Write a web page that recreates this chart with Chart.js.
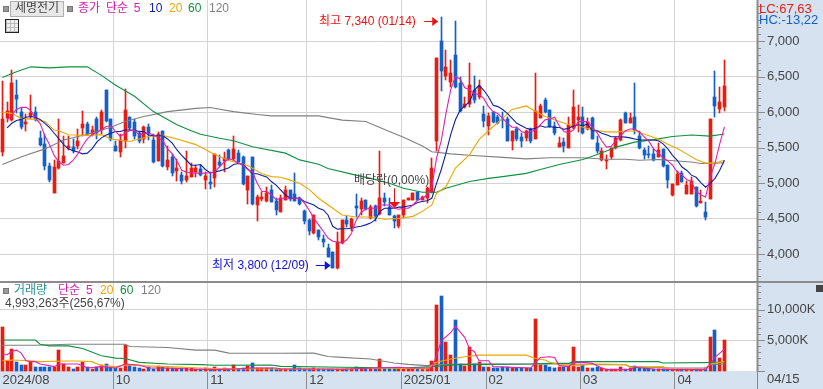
<!DOCTYPE html>
<html><head><meta charset="utf-8">
<style>
html,body{margin:0;padding:0;width:823px;height:389px;overflow:hidden;background:#d6e2f0}
#w1,#w2{position:absolute;left:0;width:757px;background:#fff}
#w1{top:0;height:281px}#w2{top:283px;height:88px}
canvas{position:absolute;left:0}
#c1{top:0}#c2{top:281px}
.t{position:absolute;font:12px "Liberation Sans","Noto Sans CJK KR",sans-serif;line-height:14px;white-space:nowrap;color:#444}
.b{position:absolute}
</style></head><body>
<div id="w1"></div><div id="w2"></div>
<canvas id="c1" width="823" height="281"></canvas>
<canvas id="c2" width="823" height="108"></canvas>
<div class="b" style="left:0;top:281px;width:823px;height:2px;background:#8c8c8c"></div>
<div class="b" style="left:3px;top:6px;width:4px;height:4px;background:#999;border:1px solid #777"></div>
<div class="b" style="left:10px;top:1px;width:52px;height:14px;background:#e8e8e8;border:1px solid #b0b0b0"></div>
<span class="t" style="left:15px;top:1px">세명전기</span>
<div class="b" style="left:67px;top:6px;width:4px;height:4px;background:#999;border:1px solid #777"></div>
<span class="t" style="left:78px;top:1px;color:#d81fb0;word-spacing:2.5px">종가 단순 5</span>
<span class="t" style="left:149px;top:1px;color:#1020a0">10</span>
<span class="t" style="left:169px;top:1px;color:#eda800">20</span>
<span class="t" style="left:188px;top:1px;color:#109040">60</span>
<span class="t" style="left:209px;top:1px;color:#808080">120</span>
<div class="b" style="left:5px;top:19px;width:12px;height:12px;border:1px solid #222;background:repeating-linear-gradient(90deg,#bbb 0 1px,transparent 1px 4px),repeating-linear-gradient(0deg,#bbb 0 1px,#eee 1px 4px)"></div>
<span class="t" style="left:759px;top:2px;color:#e81c10;font-size:13px">LC:67,63</span>
<span class="t" style="left:759px;top:13px;color:#1560c8;font-size:13px">HC:-13,22</span>
<span class="t" style="left:319px;top:14px;color:#f01010">최고 7,340 (01/14)</span>
<span class="t" style="left:212px;top:258px;color:#1010e0">최저 3,800 (12/09)</span>
<span class="t" style="left:354px;top:173px;color:#444">배당락(0,00%)</span>
<div class="b" style="left:3px;top:288px;width:4px;height:4px;background:#999;border:1px solid #777"></div>
<span class="t" style="left:14px;top:283px;color:#2a9090">거래량</span>
<span class="t" style="left:58px;top:283px;color:#d81fb0;word-spacing:2.5px">단순 5</span>
<span class="t" style="left:100px;top:283px;color:#eda800">20</span>
<span class="t" style="left:120px;top:283px;color:#109040">60</span>
<span class="t" style="left:141px;top:283px;color:#808080">120</span>
<span class="t" style="left:5px;top:296px">4,993,263주(256,67%)</span>
<span class="t" style="left:767px;top:372px;font-size:13px">04/15</span>
<div class="b" style="left:757px;top:371px;width:1px;height:18px;background:#888"></div>
<div class="b" style="left:816px;top:285px;width:7px;height:7px;background:#444"></div>
<script src="https://cdn.jsdelivr.net/npm/chart.js@4"></script>
<script>
const opens=[5440,5920,5890,6240,6005,5840,5950,6000,5640,5555,
5250,4860,5210,5290,5500,5510,5525,5780,5836,5690,
5900,5750,6310,5900,5520,5440,5600,5930,5870,5710,
5625,5800,5610,5320,5730,5235,5375,5180,5120,5050,
5090,5160,5200,5045,5025,5080,5295,5320,5465,5340,
5425,5370,4905,5370,4695,4780,4750,4905,4750,4600,
4770,4905,4850,4790,4615,4490,4300,4350,4220,4090,
4040,3810,4160,4480,4390,4680,4640,4760,4515,4680,
4570,4800,4665,4540,4395,4550,4760,4770,4875,4765,
4800,4885,5590,7000,6505,6430,6800,6410,6080,6120,
6310,6220,5970,5810,6010,5940,5900,5900,5590,5760,
5650,5640,5760,5630,5925,6180,6030,5810,5515,5585,
5495,5780,5890,5930,5760,5915,5565,5325,5320,5370,
5495,5610,5995,5855,5930,5670,5465,5415,5415,5370,
5485,5255,4840,4975,5140,4855,4855,4945,4730,4600,
4780,6210,6050,6070];
const highs=[6435,6150,6590,6450,6065,5980,6250,6070,5740,5700,
5290,5330,5900,5670,5660,5620,5760,6020,5870,5810,
5940,6030,6310,5910,5600,5690,6330,5940,5900,5730,
5810,5840,5690,5720,5740,5530,5410,5345,5160,5450,
5290,5255,5265,5160,5160,5415,5400,5440,5485,5660,
5475,5385,5100,5375,4840,4880,4950,4975,4790,4830,
4960,4905,5150,4810,4630,4500,4560,4350,4270,4150,
4040,4315,4480,4535,4515,4845,4800,4770,4690,4690,
5450,4870,4800,4550,4560,4770,4790,4870,4880,4820,
4945,5350,6760,7340,6880,6730,7280,6490,6215,6690,
6505,6450,6090,5995,6010,5960,6010,5940,5730,5800,
5710,5745,5775,6550,6120,6200,6030,5870,5650,5635,
5940,6310,6105,6080,5915,5930,5670,5495,5395,5500,
5650,5910,6005,5995,6410,5740,5495,5520,5480,5565,
5490,5260,4990,5175,5175,5035,5085,4955,4900,4740,
5910,6580,6355,6735];
const lows=[5380,5870,5880,5985,5760,5730,5910,5880,5520,5190,
5020,4860,5200,5280,5465,5420,5490,5660,5680,5660,
5620,5700,5860,5590,5450,5370,5500,5750,5630,5570,
5570,5610,5280,5320,5230,5190,5100,5035,4990,5020,
5085,5085,5105,4920,4915,4945,5230,5160,5325,5325,
5280,4975,4710,4700,4470,4750,4740,4740,4555,4595,
4770,4750,4755,4700,4430,4270,4290,4200,4110,3960,
3810,3800,4140,4380,4335,4530,4560,4620,4500,4470,
4550,4685,4550,4370,4370,4515,4760,4760,4760,4760,
4720,4860,5460,6305,6450,6360,6345,6010,6060,6080,
6130,6190,5800,5680,5850,5840,5785,5600,5470,5590,
5510,5590,5565,5620,5925,5990,5790,5680,5510,5440,
5495,5770,5725,5700,5745,5620,5430,5315,5195,5340,
5490,5600,5850,5850,5690,5480,5345,5360,5315,5370,
5230,4940,4825,4975,5020,4855,4855,4665,4730,4485,
4780,5930,5985,6020];
const closes=[5900,6020,6410,6190,5800,5870,5990,5900,5545,5250,
5040,5230,5310,5380,5525,5455,5590,5836,5700,5750,
5710,6000,5880,5620,5450,5610,6030,5775,5660,5590,
5800,5700,5300,5690,5240,5330,5150,5215,5030,5100,
5220,5220,5120,5105,4995,5410,5265,5360,5340,5480,
5300,4985,5100,4710,4805,4810,4870,4740,4625,4800,
4900,4780,4755,4710,4465,4325,4560,4240,4170,3965,
3810,4170,4480,4430,4500,4650,4750,4640,4665,4540,
4800,4735,4560,4470,4555,4760,4790,4860,4765,4810,
4930,5210,6760,6580,6635,6550,6355,6020,6115,6380,
6170,6365,5880,5950,5870,5855,5890,5600,5730,5630,
5600,5735,5600,6020,6085,6000,5790,5715,5565,5530,
5825,6070,5940,5710,5870,5630,5455,5450,5330,5500,
5640,5885,5855,5925,5755,5495,5395,5395,5325,5470,
5240,5045,4985,5130,5020,4975,5035,4675,4755,4530,
5910,6090,6145,6370];
const volumes=[7170,1520,3580,1470,980,920,1360,650,650,650,
540,540,3420,1090,650,330,540,1360,540,330,
540,920,1140,650,380,380,4180,920,540,380,
330,540,330,760,650,430,380,430,430,430,
380,220,220,380,330,540,270,380,330,870,
330,430,815,1300,430,380,380,380,330,270,
220,220,980,430,330,330,380,220,330,270,
330,270,270,220,270,540,270,220,270,220,
1960,430,380,380,490,330,270,270,220,220,
270,1630,10750,12220,4720,2600,8300,1090,815,3900,
1090,1470,650,650,430,490,540,650,430,380,
380,430,380,8470,980,980,600,430,540,540,
815,3900,650,870,490,490,540,430,270,270,
270,540,270,490,815,380,430,430,270,270,
220,220,220,220,220,220,220,220,220,380,
5540,6680,2120,4993];
const ma5=[[1,5890],[2,5963],[3,6040],[4,6070],[5,6070],[6,6030],[7,5915],[8,5840],[9,5670],[10,5545],[11,5390],[12,5300],[13,5255],[14,5265],[15,5325],[16,5415],[17,5530],[18,5625],[19,5685],[20,5720],[21,5750],[22,5800],[23,5810],[24,5730],[25,5660],[26,5705],[27,5745],[28,5745],[29,5680],[30,5705],[31,5705],[32,5685],[33,5640],[34,5600],[35,5485],[36,5415],[37,5315],[38,5185],[39,5160],[40,5145],[41,5145],[42,5140],[43,5145],[44,5145],[45,5160],[46,5230],[47,5300],[48,5345],[49,5325],[50,5285],[51,5255],[52,5195],[53,5160],[54,5000],[55,4885],[56,4885],[57,4840],[58,4770],[59,4790],[60,4790],[61,4790],[62,4790],[63,4790],[64,4720],[65,4625],[66,4510],[67,4415],[68,4325],[69,4230],[70,4185],[71,4175],[72,4160],[73,4205],[74,4300],[75,4485],[76,4590],[77,4635],[78,4650],[79,4650],[80,4695],[81,4695],[82,4695],[83,4650],[84,4635],[85,4650],[86,4650],[87,4695],[88,4765],[89,4790],[90,4835],[91,4955],[92,5355],[93,5600],[94,5985],[95,6320],[96,6505],[97,6470],[98,6345],[99,6320],[100,6260],[101,6250],[102,6195],[103,6080],[104,6010],[105,5985],[106,5915],[107,5845],[108,5790],[109,5790],[110,5730],[111,5705],[112,5730],[113,5750],[114,5825],[115,5895],[116,5905],[117,5930],[118,5810],[119,5730],[120,5715],[121,5750],[122,5870],[123,5870],[124,5870],[125,5790],[126,5715],[127,5600],[128,5510],[129,5520],[130,5600],[131,5670],[132,5740],[133,5765],[134,5765],[135,5720],[136,5655],[137,5590],[138,5485],[139,5430],[140,5360],[141,5315],[142,5255],[143,5160],[144,5115],[145,5055],[146,5025],[147,4885],[148,4840],[149,4805],[150,5090],[151,5280],[152,5555],[153,5795]];
const ma10=[[1,5780],[2,5845],[3,5885],[4,5900],[5,5930],[6,5940],[7,5930],[8,5900],[9,5845],[10,5785],[11,5705],[12,5625],[13,5545],[14,5485],[15,5460],[16,5440],[17,5415],[18,5425],[19,5485],[20,5580],[21,5640],[22,5680],[23,5705],[24,5730],[25,5730],[26,5750],[27,5750],[28,5745],[29,5730],[30,5730],[31,5680],[32,5670],[33,5670],[34,5670],[35,5625],[36,5565],[37,5470],[38,5395],[39,5325],[40,5255],[41,5255],[42,5265],[43,5195],[44,5150],[45,5160],[46,5175],[47,5195],[48,5220],[49,5265],[50,5280],[51,5265],[52,5205],[53,5135],[54,5135],[55,5110],[56,5090],[57,5025],[58,4975],[59,4905],[60,4835],[61,4790],[62,4790],[63,4790],[64,4745],[65,4720],[66,4695],[67,4650],[68,4625],[69,4555],[70,4395],[71,4355],[72,4360],[73,4360],[74,4370],[75,4385],[76,4395],[77,4415],[78,4440],[79,4485],[80,4605],[81,4650],[82,4650],[83,4650],[84,4665],[85,4665],[86,4680],[87,4695],[88,4730],[89,4745],[90,4755],[91,4790],[92,5000],[93,5195],[94,5425],[95,5685],[96,5895],[97,6030],[98,6090],[99,6150],[100,6310],[101,6380],[102,6310],[103,6220],[104,6100],[105,6080],[106,6040],[107,5985],[108,5915],[109,5845],[110,5810],[111,5775],[112,5760],[113,5775],[114,5810],[115,5790],[116,5800],[117,5785],[118,5785],[119,5760],[120,5775],[121,5810],[122,5825],[123,5810],[124,5835],[125,5740],[126,5740],[127,5705],[128,5685],[129,5655],[130,5655],[131,5655],[132,5650],[133,5640],[134,5625],[135,5610],[136,5610],[137,5610],[138,5610],[139,5600],[140,5555],[141,5485],[142,5395],[143,5325],[144,5230],[145,5185],[146,5115],[147,5085],[148,5010],[149,4945],[150,5000],[151,5070],[152,5185],[153,5325]];
const ma20=[[0,6000],[2,5985],[4,5915],[7,5900],[9,5870],[11,5750],[12,5740],[14,5685],[18,5675],[21,5685],[23,5625],[27,5590],[31,5660],[34,5675],[37,5625],[41,5545],[45,5405],[48,5320],[52,5250],[55,5135],[57,5095],[59,5085],[61,5045],[63,5000],[65,4915],[67,4790],[70,4650],[72,4555],[75,4525],[78,4525],[81,4495],[84,4505],[87,4535],[89,4605],[91,4695],[92,4860],[94,4955],[96,5215],[99,5405],[101,5615],[104,5800],[106,5915],[108,6040],[111,6090],[113,6010],[115,5940],[118,5870],[120,5825],[122,5810],[125,5750],[128,5725],[130,5725],[134,5740],[137,5670],[139,5625],[141,5550],[143,5490],[145,5415],[147,5335],[149,5285],[151,5285],[153,5325]];
const ma60=[[0,6490],[3,6570],[6,6640],[10,6625],[14,6640],[18,6640],[21,6520],[24,6380],[28,6225],[32,6010],[37,5825],[40,5740],[42,5690],[46,5635],[49,5600],[53,5515],[60,5425],[63,5330],[67,5270],[69,5210],[74,5130],[78,5070],[82,5000],[85,4930],[89,4875],[92,4875],[94,4930],[99,5025],[103,5070],[106,5095],[111,5140],[114,5195],[118,5265],[123,5335],[125,5380],[128,5455],[130,5510],[134,5580],[138,5615],[142,5660],[146,5680],[150,5665],[153,5695]];
const ma120=[[0,5265],[3,5345],[5,5395],[9,5485],[13,5610],[18,5690],[23,5790],[26,5870],[30,5940],[35,6010],[41,6055],[44,6068],[49,6010],[54,5970],[57,5950],[67,5950],[72,5890],[77,5870],[82,5730],[85,5650],[89,5525],[91,5445],[95,5415],[99,5395],[106,5365],[111,5345],[116,5360],[123,5360],[128,5340],[132,5340],[135,5325],[139,5335],[143,5315],[146,5300],[148,5280],[150,5280],[153,5290]];
const volMa5=[[0,2600],[1,2600],[2,3150],[3,3370],[4,2880],[5,1630],[6,1470],[7,1470],[8,1090],[11,650],[12,1090],[16,1090],[17,815],[18,430],[21,650],[24,430],[26,1090],[29,920],[31,430],[35,430],[39,270],[45,160],[49,270],[53,430],[58,430],[59,270],[66,270],[72,220],[79,430],[84,540],[86,430],[91,430],[92,2440],[93,4890],[95,6240],[96,7330],[98,5430],[99,3530],[100,3150],[101,1630],[103,1630],[104,650],[112,430],[113,1360],[114,2170],[116,2280],[117,2170],[118,815],[120,650],[121,1360],[123,1360],[125,1190],[127,430],[128,160],[133,160],[134,540],[138,270],[142,160],[149,160],[150,1090],[151,2170],[153,3530]];
const volMa20=[[0,1630],[2,1740],[6,1630],[8,1470],[14,1580],[16,1580],[19,1470],[21,815],[24,650],[26,920],[29,815],[35,650],[42,430],[45,330],[59,270],[72,270],[79,380],[84,430],[90,270],[92,1360],[95,1900],[98,2280],[101,2540],[111,2540],[113,2000],[115,1740],[116,1360],[118,980],[121,815],[126,1090],[132,980],[133,540],[140,650],[141,270],[149,270],[150,1090],[153,1470]];
const volMa60=[[0,5040],[7,5040],[8,4340],[10,4070],[14,4070],[17,3640],[21,2440],[24,2060],[26,2000],[29,1360],[35,1090],[42,980],[45,870],[57,920],[59,700],[72,540],[85,430],[91,650],[96,980],[103,1030],[112,1090],[116,1190],[120,1190],[121,1470],[139,1470],[140,1250],[153,1360]];
const volMa120=[[0,4180],[7,4180],[14,4340],[26,4340],[27,3960],[35,3800],[41,3370],[45,3370],[48,2880],[59,2850],[66,2880],[69,2330],[72,2170],[78,1900],[83,1250],[86,1030],[90,815],[92,980],[99,1090],[121,1090],[126,980],[132,980],[133,650],[142,430],[149,430],[150,980],[153,1090]];
const monthTicks=[[0,'2024/08'],[24,'10'],[44,'11'],[65,'12'],[85,'2025/01'],[103,'02'],[123,'03'],[143,'04']];
const priceTicks=[4000,4500,5000,5500,6000,6500,7000];
const volTicks=[5000,10000];
const highMark={index:93,level:7285};
const lowMark={index:70,level:3850};
const dividend={index:83,top:4930,bottom:4695};

const RED='#e81c10',BLUE='#1560c8',GRID='#d4d4d4',AXIS='#8c8c8c';
const XMAX=159.9;
const idx=opens.map((_,i)=>i);
const up=i=>closes[i]>=opens[i];
const col=i=>up(i)?RED:BLUE;
const pts=a=>a.map(p=>({x:p[0],y:p[1]}));
const noPad=s=>{s.paddingTop=s.paddingBottom=s.paddingLeft=s.paddingRight=0};
function line(a,c,o){return{type:'line',data:pts(a),borderColor:c,borderWidth:1.1,pointRadius:0,tension:0,order:o}}
function xScale(showLabels){return{
  type:'linear',min:-0.5,max:XMAX,offset:false,
  afterBuildTicks:s=>{s.ticks=monthTicks.map(m=>({value:m[0]-0.5,label:m[1]}))},
  afterFit:s=>{s.height=showLabels?17:0;noPad(s)},
  border:{display:false},
  grid:{offset:false,drawTicks:showLabels,tickLength:17,
    color:c=>c.index===0?'transparent':GRID,
    tickColor:c=>c.index===0?'transparent':AXIS},
  ticks:{display:showLabels,autoSkip:false,maxRotation:0,align:'start',labelOffset:2.5,padding:-16,
    color:'#444',font:{family:'"Liberation Sans"',size:13},
    callback:function(v,i){return monthTicks[i]?monthTicks[i][1]:''}}
}}
function yScale(min,max,tv,fmt){return{
  position:'right',min,max,
  afterBuildTicks:s=>{s.ticks=tv.map(v=>({value:v}))},
  afterFit:s=>{s.width=66;noPad(s)},
  border:{display:false},
  grid:{color:GRID,drawTicks:false},
  ticks:{autoSkip:false,padding:10,color:'#444',font:{family:'"Liberation Sans"',size:13},callback:fmt}
}}
const snap={id:'snap',beforeDatasetsDraw(ch){
  ch.data.datasets.forEach((d,k)=>{
    if(d.type!=='bar')return;
    ch.getDatasetMeta(k).data.forEach(e=>{e.x=Math.floor(e.x)+0.5;e.y=Math.round(e.y);e.base=Math.round(e.base);});
  });
}};
function axisDeco(step){return{id:'deco',afterDraw(ch){
  const y=ch.scales.y,g=ch.ctx,x0=ch.chartArea.right;
  g.save();g.strokeStyle=AXIS;g.lineWidth=1;
  g.beginPath();
  for(let v=Math.ceil(y.min/step)*step;v<=y.max;v+=step){
    const p=Math.round(y.getPixelForValue(v))+0.5,maj=v%(step*5)===0;
    g.moveTo(x0,p);g.lineTo(x0+(maj?8:4),p);
  }
  g.stroke();
  g.lineWidth=2;g.beginPath();g.moveTo(x0+0.5,ch.chartArea.top);g.lineTo(x0+0.5,ch.chartArea.bottom);g.stroke();
  g.restore();
}}}
function arrow(g,x1,x2,y,c){
  g.strokeStyle=c;g.fillStyle=c;g.lineWidth=1;
  g.beginPath();g.moveTo(x1,y+0.5);g.lineTo(x2-5,y+0.5);g.stroke();
  g.beginPath();g.moveTo(x2-6,y-4);g.lineTo(x2,y+0.5);g.lineTo(x2-6,y+5);g.closePath();g.fill();
}
const marks={id:'marks',afterDatasetsDraw(ch){
  const x=ch.scales.x,y=ch.scales.y,g=ch.ctx;g.save();
  let px=x.getPixelForValue(highMark.index),py=Math.round(y.getPixelForValue(highMark.level));
  arrow(g,px-17,px-3,py,'#f01010');
  px=x.getPixelForValue(lowMark.index);py=Math.round(y.getPixelForValue(lowMark.level));
  arrow(g,px-17,px-2,py,'#1010e0');
  px=Math.floor(x.getPixelForValue(dividend.index))+0.5;
  const t=y.getPixelForValue(dividend.top),b=y.getPixelForValue(dividend.bottom);
  g.strokeStyle='#f01010';g.fillStyle='#f01010';g.lineWidth=1;
  g.beginPath();g.moveTo(px,t);g.lineTo(px,b);g.stroke();
  g.beginPath();g.moveTo(px-5.5,b-3);g.lineTo(px+5.5,b-3);g.lineTo(px,b+3);g.closePath();g.fill();
  g.restore();
}};
const base={animation:false,responsive:false,devicePixelRatio:1,events:[],layout:{padding:0},plugins:{legend:{display:false},tooltip:{enabled:false}}};
new Chart(document.getElementById('c1'),{
  type:'bar',
  data:{datasets:[
    {type:'bar',data:idx.map(i=>({x:i,y:[lows[i],highs[i]]})),backgroundColor:idx.map(col),barThickness:1,grouped:false,order:7},
    {type:'bar',data:idx.map(i=>({x:i,y:[Math.min(opens[i],closes[i]),Math.max(opens[i],closes[i])]})),backgroundColor:idx.map(col),barThickness:3,grouped:false,order:6},
    line(ma120,'#808080',5),line(ma60,'#109040',4),line(ma20,'#eda800',3),line(ma10,'#1020a0',2),line(ma5,'#e020b0',1)
  ]},
  options:{...base,scales:{x:xScale(false),y:yScale(3625,7581,priceTicks,v=>v.toLocaleString('en-US'))}},
  plugins:[snap,axisDeco(100),marks]
});
new Chart(document.getElementById('c2'),{
  type:'bar',
  data:{datasets:[
    {type:'bar',data:idx.map(i=>({x:i,y:volumes[i]})),backgroundColor:idx.map(col),barThickness:3,grouped:false,order:6},
    line(volMa120,'#808080',5),line(volMa60,'#109040',4),line(volMa20,'#eda800',3),line(volMa5,'#e020b0',1)
  ]},
  options:{...base,layout:{padding:{top:1}},scales:{x:xScale(true),y:yScale(-233,14600,volTicks,v=>v.toLocaleString('en-US')+'K')}},
  plugins:[snap,axisDeco(1000)]
});
</script>
</body></html>
